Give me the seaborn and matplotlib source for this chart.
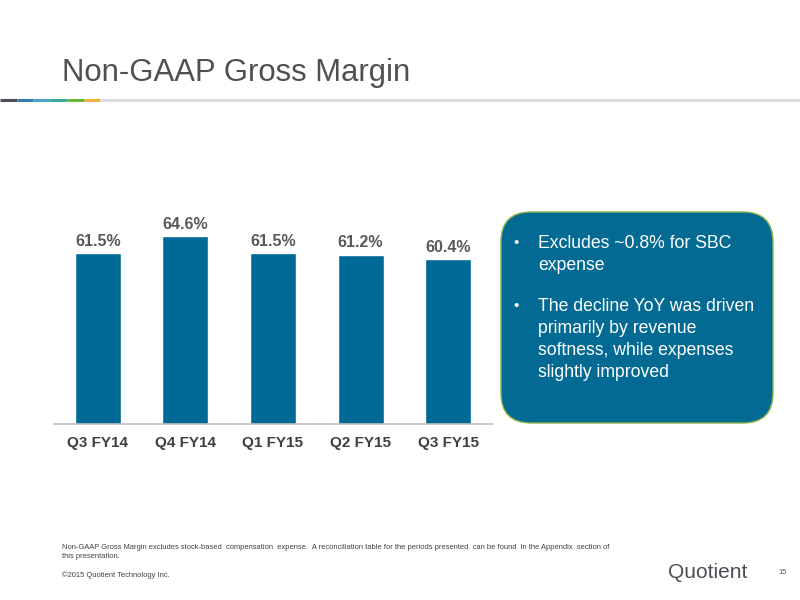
import matplotlib
matplotlib.use("Agg")
import matplotlib.pyplot as plt
import seaborn as sns
import pandas as pd
from matplotlib.patches import FancyBboxPatch

quarters = ["Q3 FY14", "Q4 FY14", "Q1 FY15", "Q2 FY15", "Q3 FY15"]
margins = [61.5, 64.6, 61.5, 61.2, 60.4]
bullets = [
    "Excludes ~0.8% for SBC\nexpense",
    "The decline YoY was driven\nprimarily by revenue\nsoftness, while expenses\nslightly improved",
]
title = "Non-GAAP Gross Margin"
footnote = ("Non-GAAP Gross Margin excludes stock-based  compensation  expense.  A reconciliation table for the periods presented  can be found  in the Appendix  section of\n"
            "this presentation.")
copyright_txt = "\u00a92015 Quotient Technology Inc."

sns.set_theme(style="white")
plt.rcParams["font.family"] = ["Liberation Sans", "DejaVu Sans"]

W, H = 800, 600
fig = plt.figure(figsize=(8, 6), dpi=100)
fig.patch.set_facecolor("white")

# overlay in pixel coordinates
ov = fig.add_axes([0, 0, 1, 1])
ov.set_xlim(0, W)
ov.set_ylim(H, 0)
ov.axis("off")

ov.text(62, 73, title, fontsize=22.4, color="#505050", va="center", ha="left")
seg_cols = ["#4a4f55", "#3b7bb5", "#4aa3c8", "#3aa89a", "#6db33f", "#f0b23c"]
for i, c in enumerate(seg_cols):
    ov.plot([i * 16.7, (i + 1) * 16.7], [99.5, 99.5], color=c, lw=2.2, solid_capstyle="butt")
ov.plot([100, 800], [99.5, 99.5], color="#dcdde0", lw=2.2, solid_capstyle="butt")

box = FancyBboxPatch((501, 212), 272, 211, boxstyle="round,pad=0,rounding_size=30",
                     facecolor="#036a93", edgecolor="#8cb24a", lw=1.0)
ov.add_patch(box)
y0 = [235, 298]
for yy, txt in zip(y0, bullets):
    ov.text(513, yy + 1, "\u2022", color="white", fontsize=11, va="top", ha="left")
    ov.text(538, yy, txt, color="white", fontsize=12.7, va="top", ha="left", linespacing=1.38)

ov.text(62, 544, footnote, fontsize=5.45, color="#404040", va="top", ha="left", linespacing=1.45)
ov.text(62, 575, copyright_txt, fontsize=5.4, color="#404040", va="center", ha="left")
ov.text(668, 572, "Quotient", fontsize=15, color="#4a4f55", va="center", ha="left")
ov.text(778, 572, "15", fontsize=5.5, color="#555555", va="center", ha="left")

# bar chart axes
ax = fig.add_axes([54 / W, (H - 424) / H, (492 - 54) / W, (424 - 200) / H])
ax.patch.set_alpha(0)
df = pd.DataFrame({"quarter": quarters, "margin": margins})
sns.barplot(data=df, x="quarter", y="margin", color="#006a96", saturation=1, width=0.525, ax=ax)
ax.set_ylim(30, 71.25)
ax.set_xlim(-0.5, 4.5)
ax.bar_label(ax.containers[0], fmt="%.1f%%", padding=3, fontsize=11.5,
             fontweight="bold", color="#595959")
ax.set_xlabel("")
ax.set_ylabel("")
ax.set_yticks([])
ax.tick_params(axis="x", length=0, pad=9, labelsize=11, labelcolor="#404040")
for lbl in ax.get_xticklabels():
    lbl.set_fontweight("bold")
for s in ["top", "right", "left"]:
    ax.spines[s].set_visible(False)
ax.spines["bottom"].set_color("#bfbfbf")
ax.spines["bottom"].set_linewidth(1.2)

fig.savefig("out.png", dpi=100, facecolor="white")
